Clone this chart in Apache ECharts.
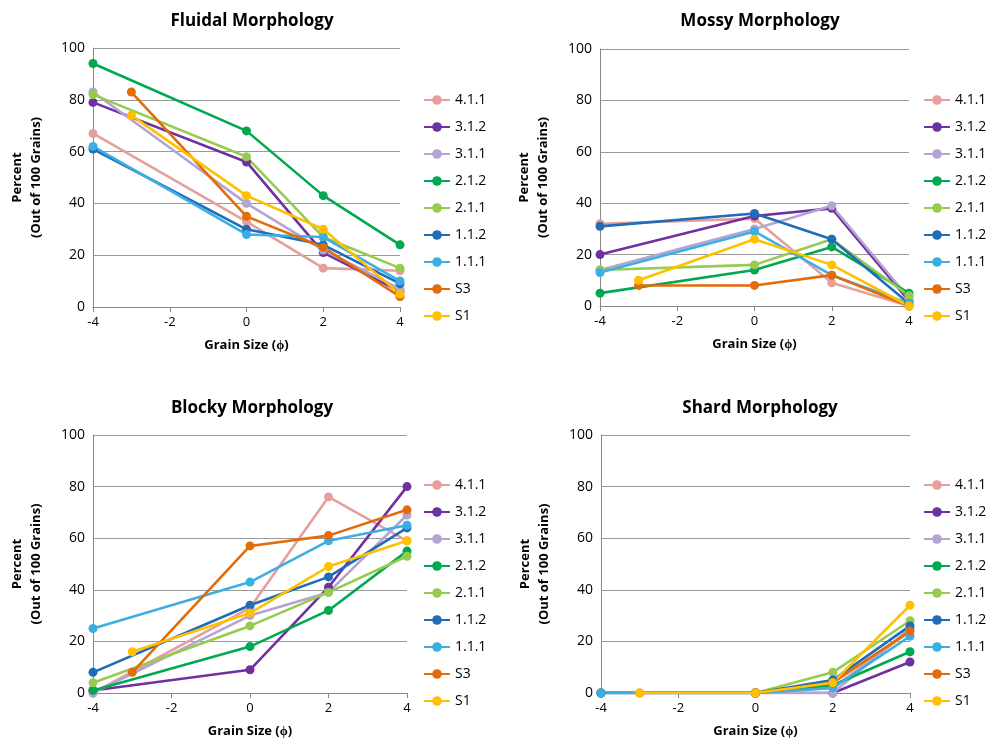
<!DOCTYPE html>
<html>
<head>
<meta charset="utf-8">
<script src="https://cdn.jsdelivr.net/npm/echarts@6/dist/echarts.min.js"></script>
<style>
  html, body { margin: 0; padding: 0; background: #fff; }
  #chart { width: 1003px; height: 743px; }
</style>
</head>
<body>
<div id="chart"></div>
<script>
// sample names, colours and grain sizes
const sampleNames = ['4.1.1', '3.1.2', '3.1.1', '2.1.2', '2.1.1', '1.1.2', '1.1.1', 'S3', 'S1']
const sampleColors = ['#E5A09D', '#7030A0', '#B4A5D0', '#00A84F', '#97CB4F', '#1F6CB8', '#3DAEE4', '#E36C0A', '#FFC000']
const grainFull = [-4, 0, 2, 4]   // 4.1.1 ... 1.1.1
const grainS = [-3, 0, 2, 4]      // S3, S1
const panelTitles = ['Fluidal Morphology', 'Mossy Morphology', 'Blocky Morphology', 'Shard Morphology']

// percent values per sample (same order as sampleNames)
const fluidal = [
    [67, 33, 15, 14],
    [79, 56, 21, 6],
    [83, 40, 22, 7],
    [94, 68, 43, 24],
    [82, 58, 27, 15],
    [61, 30, 24, 9],
    [62, 28, 27, 10],
    [83, 35, 23, 4],
    [74, 43, 30, 5]
]
const mossy = [
    [32, 34, 9, 0],
    [20, 35, 38, 2],
    [14, 30, 39, 3],
    [5, 14, 23, 5],
    [14, 16, 26, 4],
    [31, 36, 26, 1],
    [13, 29, 12, 1],
    [8, 8, 12, 0],
    [10, 26, 16, 0]
]
const blocky = [
    [0, 33, 76, 59],
    [1, 9, 41, 80],
    [0, 30, 39, 69],
    [1, 18, 32, 55],
    [4, 26, 39, 53],
    [8, 34, 45, 64],
    [25, 43, 59, 65],
    [8, 57, 61, 71],
    [16, 31, 49, 59]
]
const shard = [
    [0, 0, 2, 24],
    [0, 0, 0, 12],
    [0, 0, 0, 25],
    [0, 0, 3, 16],
    [0, 0, 8, 28],
    [0, 0, 5, 26],
    [0, 0, 2, 22],
    [0, 0, 4, 24],
    [0, 0, 4, 34]
]
const panels = [fluidal, mossy, blocky, shard]

const font = 'Open Sans'
const grids = [
    { left: 93, top: 48, width: 307, height: 259 },
    { left: 600, top: 49, width: 309, height: 257 },
    { left: 93, top: 435, width: 314, height: 258 },
    { left: 601, top: 435, width: 309, height: 258 }
]
const titlePos = [[247, 8], [755, 8], [247, 395], [755, 395]]
const legendPos = [[418, 88], [918, 88], [418, 473], [918, 473]]

let chart = echarts.init(document.getElementById('chart'))

let xAxes = [], yAxes = [], series = [], titles = [], legends = []
grids.forEach((g, i) => {
    xAxes.push({
        type: 'value', gridIndex: i, min: -4, max: 4, interval: 2,
        name: 'Grain Size (\u03d5)', nameLocation: 'middle', nameGap: 32,
        nameTextStyle: { fontFamily: font, fontWeight: 'bold', fontSize: 13, color: '#000' },
        axisLine: { onZero: false, lineStyle: { color: '#888', width: 1 } },
        axisTick: { show: true, length: 5, lineStyle: { color: '#888' } },
        axisLabel: { fontFamily: font, fontSize: 13, color: '#000', margin: 9 },
        splitLine: { show: false }
    })
    yAxes.push({
        type: 'value', gridIndex: i, min: 0, max: 100, interval: 20,
        name: 'Percent\n(Out of 100 Grains)', nameLocation: 'middle', nameGap: 47, nameRotate: 90,
        nameTextStyle: { fontFamily: font, fontWeight: 'bold', fontSize: 13, color: '#000', lineHeight: 19 },
        axisLine: { show: true, onZero: false, lineStyle: { color: '#888', width: 1 } },
        axisTick: { show: false },
        axisLabel: { fontFamily: font, fontSize: 14, color: '#000', margin: 8 },
        splitLine: { show: true, lineStyle: { color: '#999', width: 1 } }
    })
    titles.push({
        text: panelTitles[i], left: titlePos[i][0], top: titlePos[i][1], textAlign: 'center',
        textStyle: { fontFamily: font, fontWeight: 'bold', fontSize: 17, color: '#000' }
    })
    legends.push({
        orient: 'vertical', left: legendPos[i][0], top: legendPos[i][1],
        data: sampleNames, itemWidth: 26, itemHeight: 12, itemGap: 13,
        textStyle: { fontFamily: font, fontSize: 14, color: '#000' }
    })
    panels[i].forEach((vals, k) => {
        let xs = k >= 7 ? grainS : grainFull
        series.push({
            name: sampleNames[k], type: 'line', xAxisIndex: i, yAxisIndex: i,
            data: vals.map((v, j) => [xs[j], v]),
            color: sampleColors[k],
            symbol: 'circle', symbolSize: 9,
            lineStyle: { width: 2.6 },
            itemStyle: { color: sampleColors[k] },
            animation: false
        })
    })
})

chart.setOption({
    animation: false,
    title: titles,
    legend: legends,
    grid: grids,
    xAxis: xAxes,
    yAxis: yAxes,
    series: series
})
</script>
</body>
</html>
